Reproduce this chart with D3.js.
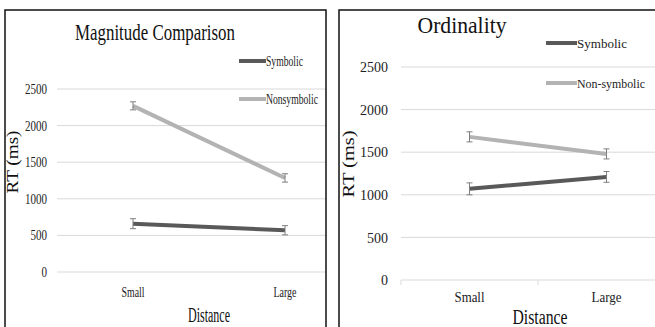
<!DOCTYPE html>
<html>
<head>
<meta charset="utf-8">
<script src="https://cdn.jsdelivr.net/npm/d3@7"></script>
<style>
  body { margin: 0; background: #fff; }
  svg text { font-family: "Liberation Serif", "Times New Roman", serif; }
</style>
</head>
<body>
<svg id="chart" width="655" height="327"></svg>
<script>
// data
const categories = ["Small", "Large"];
const yTicks = [0, 500, 1000, 1500, 2000, 2500];

const magSeries = ["Symbolic", "Nonsymbolic"];
const magSymbolic = [660, 570];
const magSymbolicErr = [68, 63];
const magNonsymbolic = [2270, 1285];
const magNonsymbolicErr = [55, 57];

const ordSeries = ["Symbolic", "Non-symbolic"];
const ordSymbolic = [1070, 1210];
const ordSymbolicErr = [70, 63];
const ordNonsymbolic = [1680, 1480];
const ordNonsymbolicErr = [59, 59];

const colors = ["#595959", "#b3b3b3"];

const svg = d3.select("#chart");

function drawPanel(p) {
    const clipId = "clip-" + p.id;
    svg.append("clipPath").attr("id", clipId)
        .append("rect")
        .attr("x", p.box[0]).attr("y", p.box[1])
        .attr("width", p.box[2]).attr("height", p.box[3]);

    const g = svg.append("g").attr("clip-path", "url(#" + clipId + ")");

    const x = d3.scaleBand().domain(categories).range(p.xRange);
    const y = d3.scaleLinear().domain([0, 2500]).range(p.yRange);
    const cx = c => x(c) + x.bandwidth() / 2;

    // gridlines
    g.selectAll(".grid")
        .data(yTicks)
        .enter().append("line")
        .attr("x1", p.xRange[0])
        .attr("x2", p.box[0] + p.box[2])
        .attr("y1", d => y(d))
        .attr("y2", d => y(d))
        .attr("stroke", "#d9d9d9")
        .attr("stroke-width", 1);

    // tick labels
    g.selectAll(".ylab")
        .data(yTicks)
        .enter().append("text")
        .attr("x", p.xRange[0] - p.tickPad)
        .attr("y", d => y(d))
        .attr("dy", "0.35em")
        .attr("text-anchor", "end")
        .attr("font-size", p.tickSize)
        .attr("textLength", d => String(d).length * p.digitW)
        .attr("lengthAdjust", "spacingAndGlyphs")
        .attr("fill", "#222")
        .text(d => d);

    if (p.axisTicks) {
        const ticks = [x.range()[0], x("Large")];
        g.selectAll(".xt")
            .data(ticks)
            .enter().append("line")
            .attr("x1", d => d).attr("x2", d => d)
            .attr("y1", y(0)).attr("y2", y(0) + 5)
            .attr("stroke", "#d9d9d9");
    }

    // category labels
    g.selectAll(".xlab")
        .data(categories)
        .enter().append("text")
        .attr("x", d => cx(d))
        .attr("y", p.catY)
        .attr("text-anchor", "middle")
        .attr("font-size", p.catSize)
        .attr("textLength", p.catLen)
        .attr("lengthAdjust", "spacingAndGlyphs")
        .attr("fill", "#222")
        .text(d => d);

    // series
    const line = d3.line()
        .x((d, i) => cx(categories[i]))
        .y(d => y(d));

    p.series.forEach((s, si) => {
        g.append("path")
            .datum(s.values)
            .attr("d", line)
            .attr("fill", "none")
            .attr("stroke", colors[si])
            .attr("stroke-width", 4);

        const bars = g.selectAll(".err" + si)
            .data(s.values)
            .enter().append("g");
        bars.append("line")
            .attr("x1", (d, i) => cx(categories[i]))
            .attr("x2", (d, i) => cx(categories[i]))
            .attr("y1", (d, i) => y(d - s.err[i]))
            .attr("y2", (d, i) => y(d + s.err[i]))
            .attr("stroke", "#7f7f7f");
        [-1, 1].forEach(sign => {
            bars.append("line")
                .attr("x1", (d, i) => cx(categories[i]) - 3)
                .attr("x2", (d, i) => cx(categories[i]) + 3)
                .attr("y1", (d, i) => y(d + sign * s.err[i]))
                .attr("y2", (d, i) => y(d + sign * s.err[i]))
                .attr("stroke", "#7f7f7f");
        });

        // legend
        const ly = p.legendY[si];
        g.append("line")
            .attr("x1", p.legendX).attr("x2", p.legendX + p.legendLen)
            .attr("y1", ly).attr("y2", ly)
            .attr("stroke", colors[si])
            .attr("stroke-width", 4);
        g.append("text")
            .attr("x", p.legendX + p.legendLen)
            .attr("y", ly)
            .attr("dy", "0.35em")
            .attr("font-size", p.legendSize)
            .attr("textLength", p.legendTextLen[si])
            .attr("lengthAdjust", "spacingAndGlyphs")
            .attr("fill", "#222")
            .text(s.name);
    });

    // title
    g.append("text")
        .attr("x", p.titleX)
        .attr("y", p.titleY)
        .attr("text-anchor", "middle")
        .attr("font-size", 23)
        .attr("textLength", p.titleLen)
        .attr("lengthAdjust", "spacingAndGlyphs")
        .attr("fill", "#111")
        .text(p.title);

    // axis titles
    g.append("text")
        .attr("transform", "translate(" + p.yTitle[0] + "," + p.yTitle[1] + ") rotate(-90)")
        .attr("text-anchor", "middle")
        .attr("dy", "0.35em")
        .attr("font-size", 16)
        .attr("textLength", p.yTitleLen)
        .attr("lengthAdjust", "spacingAndGlyphs")
        .attr("fill", "#111")
        .text("RT (ms)");

    g.append("text")
        .attr("x", p.xTitle[0])
        .attr("y", p.xTitle[1])
        .attr("text-anchor", "middle")
        .attr("font-size", p.xTitleSize)
        .attr("textLength", p.xTitleLen)
        .attr("lengthAdjust", "spacingAndGlyphs")
        .attr("fill", "#111")
        .text("Distance");

    // border
    svg.append("rect")
        .attr("x", p.box[0]).attr("y", p.box[1])
        .attr("width", p.box[2]).attr("height", p.box[3])
        .attr("fill", "none")
        .attr("stroke", "#111")
        .attr("stroke-width", 1.5);
}

drawPanel({
    id: "mag",
    box: [5, 10, 321, 330],
    xRange: [57, 361],
    yRange: [272, 89],
    tickPad: 10,
    tickSize: 14,
    digitW: 5.5,
    catY: 297,
    catSize: 15,
    catLen: 23,
    axisTicks: false,
    legendX: 239,
    legendLen: 27,
    legendY: [61, 99],
    legendSize: 14,
    legendTextLen: [37, 52],
    title: "Magnitude Comparison",
    titleX: 155,
    titleY: 40,
    titleLen: 160,
    yTitle: [12, 162],
    yTitleLen: 63,
    xTitle: [209, 322],
    xTitleSize: 20,
    xTitleLen: 42,
    series: [
        { name: magSeries[0], values: magSymbolic, err: magSymbolicErr },
        { name: magSeries[1], values: magNonsymbolic, err: magNonsymbolicErr }
    ]
});

drawPanel({
    id: "ord",
    box: [339, 10, 400, 330],
    xRange: [401, 675],
    yRange: [280, 67],
    tickPad: 13,
    tickSize: 15,
    digitW: 7,
    catY: 302,
    catSize: 15,
    catLen: 30,
    axisTicks: true,
    legendX: 546,
    legendLen: 31,
    legendY: [43, 83],
    legendSize: 13,
    legendTextLen: [50, 68],
    title: "Ordinality",
    titleX: 462,
    titleY: 33,
    titleLen: 89,
    yTitle: [348, 164],
    yTitleLen: 67,
    xTitle: [540, 324],
    xTitleSize: 20,
    xTitleLen: 55,
    series: [
        { name: ordSeries[0], values: ordSymbolic, err: ordSymbolicErr },
        { name: ordSeries[1], values: ordNonsymbolic, err: ordNonsymbolicErr }
    ]
});
</script>
</body>
</html>
